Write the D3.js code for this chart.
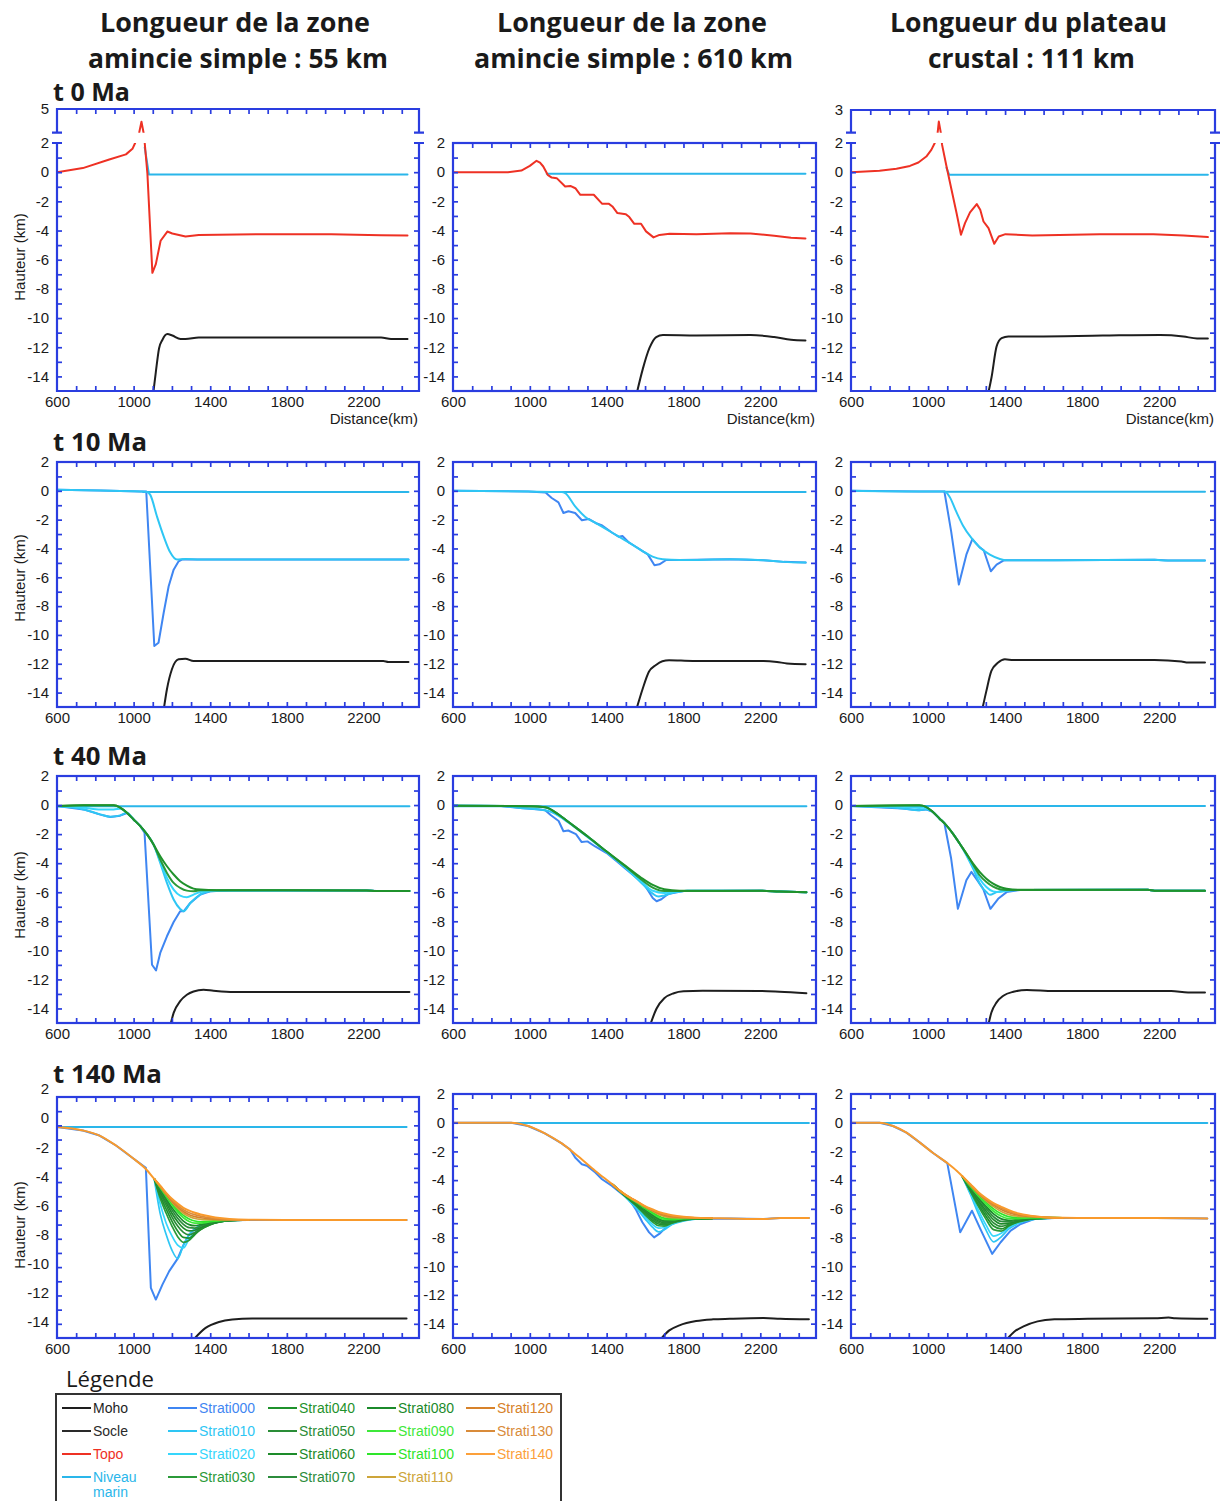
<!DOCTYPE html>
<html><head><meta charset="utf-8">
<script src="https://cdn.jsdelivr.net/npm/d3@7"></script>
<style>body{margin:0;background:#fff}svg{display:block}</style>
</head><body>
<svg id="c" width="1220" height="1501"></svg>
<script>
// ---------------- DATA (distance km, height km) ----------------
const X_TICKS = [700,800,900,1000,1100,1200,1300,1400,1500,1600,1700,1800,1900,2000,2100,2200,2300,2400];
const X_LABELS = [600,1000,1400,1800,2200];
const Y_TICKS = [-14,-13,-12,-11,-10,-9,-8,-7,-6,-5,-4,-3,-2,-1,0,1];
const Y_LABELS = [-14,-12,-10,-8,-6,-4,-2,0,2];

const COL_TITLES_1 = ["Longueur de la zone","Longueur de la zone","Longueur du plateau"];
const COL_TITLES_2 = ["amincie simple : 55 km","amincie simple : 610 km","crustal : 111 km"];
const ROW_TITLES = ["t 0 Ma","t 10 Ma","t 40 Ma","t 140 Ma"];

const LEGEND_NAMES = ["Moho","Socle","Topo","Niveau marin","Strati000","Strati010","Strati020","Strati030","Strati040","Strati050","Strati060","Strati070","Strati080","Strati090","Strati100","Strati110","Strati120","Strati130","Strati140"];
const LEGEND_COLORS = ["#1e1e1e","#2a2a2a","#ee3124","#2ab6ea","#3f86f2","#2ec6f4","#36d6fc","#2b9a39","#1f922c","#2a8d37","#1d8b2a","#2c8c3c","#1b8a2b","#3ee83a","#2ee52a","#cda53a","#d7822a","#d98b3a","#fca03a"];

// t 0 Ma
const c1t0_moho = [[1102,-15.2],[1116,-13.7],[1133,-12.07],[1150,-11.5],[1176,-11.1],[1202,-11.2],[1245,-11.43],[1271,-11.43],[1340,-11.33],[2032,-11.33],[2292,-11.33],[2344,-11.43],[2430,-11.43]];
const c1t0_sea = [[1058,1.7],[1080,-0.16],[2430,-0.16]];
const c1t0_topo = [[600,0],[735,0.28],[873,0.87],[960,1.22],[994,1.6],[1008,2.0],[1029,2.9],[1041,3.88],[1052,2.9],[1058,2.0],[1072,-0.1],[1098,-6.9],[1116,-6.3],[1141,-4.7],[1176,-4.07],[1202,-4.2],[1271,-4.41],[1340,-4.3],[1686,-4.25],[2032,-4.25],[2292,-4.32],[2430,-4.34]];
const c2t0_moho = [[1556,-15.2],[1588,-13.5],[1623,-12.05],[1658,-11.3],[1693,-11.16],[1868,-11.19],[2149,-11.16],[2272,-11.3],[2360,-11.48],[2435,-11.53]];
const c2t0_sea = [[1088,-0.11],[2435,-0.11]];
const c2t0_topo = [[600,0],[886,0],[956,0.11],[1000,0.43],[1035,0.78],[1053,0.66],[1070,0.39],[1093,-0.18],[1114,-0.37],[1140,-0.41],[1184,-0.98],[1211,-0.94],[1237,-1.1],[1263,-1.55],[1333,-1.55],[1377,-2.17],[1412,-2.17],[1430,-2.35],[1456,-2.8],[1500,-2.88],[1518,-3.08],[1544,-3.54],[1579,-3.54],[1605,-4.06],[1644,-4.47],[1675,-4.3],[1728,-4.22],[1868,-4.25],[2044,-4.18],[2149,-4.2],[2272,-4.36],[2360,-4.5],[2435,-4.54]];
const c3t0_moho = [[1312,-15.2],[1330,-14.04],[1356,-11.94],[1382,-11.37],[1417,-11.26],[1557,-11.26],[1907,-11.2],[2204,-11.16],[2326,-11.26],[2397,-11.4],[2453,-11.4]];
const c3t0_sea = [[1096,0.3],[1110,-0.18],[2453,-0.18]];
const c3t0_topo = [[600,0],[748,0.09],[836,0.23],[906,0.43],[950,0.66],[991,1.07],[1017,1.53],[1035,2.0],[1050,2.32],[1056,2.65],[1066,2.32],[1073,1.87],[1096,0.39],[1122,-1.21],[1148,-2.8],[1171,-4.29],[1192,-3.49],[1218,-2.76],[1253,-2.19],[1271,-2.58],[1288,-3.38],[1314,-3.84],[1344,-4.91],[1367,-4.41],[1402,-4.25],[1541,-4.34],[1891,-4.25],[2170,-4.25],[2327,-4.34],[2453,-4.45]];

// t 10 Ma
const c1t10_moho = [[1157,-15.2],[1174,-13.77],[1200,-12.38],[1235,-11.69],[1270,-11.65],[1313,-11.81],[1522,-11.81],[2304,-11.81],[2330,-11.88],[2435,-11.88]];
const c1t10_sea = [[1050,-0.08],[2435,-0.08]];
const c1t10_s000 = [[600,0.07],[826,0.02],[1035,-0.05],[1066,-0.05],[1108,-10.77],[1130,-10.54],[1157,-8.46],[1183,-6.62],[1209,-5.47],[1235,-4.89],[1252,-4.77],[1348,-4.77],[2435,-4.77]];
const c1t10_s010 = [[600,0.07],[826,0.02],[1035,-0.05],[1070,-0.08],[1087,-0.28],[1122,-1.78],[1157,-3.16],[1191,-4.27],[1226,-4.77],[1270,-4.73],[1348,-4.77],[2435,-4.77]];
const c2t10_moho = [[1554,-15.2],[1586,-13.8],[1620,-12.55],[1655,-12.1],[1690,-11.82],[1725,-11.75],[1849,-11.8],[2217,-11.8],[2287,-11.87],[2339,-11.98],[2436,-12.03]];
const c2t10_sea = [[1166,-0.08],[2436,-0.08]];
const c2t10_s000 = [[600,0],[991,-0.05],[1082,-0.11],[1114,-0.5],[1149,-0.8],[1175,-1.54],[1201,-1.42],[1236,-1.54],[1271,-2.04],[1306,-1.95],[1342,-2.23],[1377,-2.41],[1429,-2.91],[1464,-3.19],[1482,-3.14],[1517,-3.6],[1552,-3.88],[1587,-4.18],[1614,-4.41],[1649,-5.16],[1675,-5.1],[1710,-4.8],[1779,-4.8],[2042,-4.75],[2217,-4.82],[2322,-4.93],[2436,-4.98]];
const c2t10_s010 = [[600,0],[991,-0.05],[1166,-0.09],[1184,-0.16],[1236,-1.08],[1289,-1.81],[1342,-2.23],[1429,-2.91],[1517,-3.6],[1587,-4.18],[1639,-4.57],[1692,-4.75],[1779,-4.8],[2042,-4.75],[2217,-4.82],[2322,-4.93],[2436,-4.98]];
const c3t10_moho = [[1281,-15.2],[1303,-13.88],[1329,-12.5],[1364,-11.92],[1399,-11.69],[1443,-11.74],[2176,-11.74],[2316,-11.85],[2350,-11.92],[2438,-11.92]];
const c3t10_sea = [[1085,-0.06],[2438,-0.06]];
const c3t10_s000 = [[600,0],[954,-0.05],[1085,-0.05],[1120,-2.81],[1160,-6.5],[1199,-4.43],[1230,-3.35],[1268,-3.92],[1289,-4.12],[1326,-5.58],[1356,-5.12],[1391,-4.84],[1408,-4.82],[1652,-4.82],[2176,-4.78],[2246,-4.84],[2438,-4.84]];
const c3t10_s010 = [[600,0],[954,-0.05],[1085,-0.05],[1111,-0.39],[1146,-1.43],[1181,-2.4],[1225,-3.27],[1268,-3.92],[1321,-4.43],[1373,-4.73],[1408,-4.82],[1652,-4.82],[2176,-4.78],[2246,-4.84],[2438,-4.84]];

// t 40 Ma
const c1t40_moho = [[1191,-15.2],[1209,-14.3],[1243,-13.5],[1278,-13.06],[1313,-12.83],[1365,-12.71],[1417,-12.78],[1522,-12.87],[2440,-12.87]];
const c1t40_sea = [[600,-0.09],[2440,-0.09]];
const c1t40_s000 = [[600,-0.07],[739,-0.3],[826,-0.66],[878,-0.82],[930,-0.73],[965,-0.55],[1000,-0.99],[1035,-1.45],[1057,-1.9],[1096,-10.99],[1117,-11.38],[1139,-10.18],[1174,-9.03],[1209,-8.05],[1243,-7.31],[1261,-7.31],[1296,-6.74],[1348,-6.16],[1400,-5.93],[1500,-5.88],[2217,-5.88],[2270,-5.91],[2440,-5.91]];
const c1t40_s010 = [[600,-0.07],[739,-0.3],[826,-0.64],[878,-0.8],[930,-0.71],[965,-0.53],[1000,-0.99],[1035,-1.45],[1070,-2.02],[1104,-2.71],[1139,-3.98],[1174,-5.36],[1209,-6.5],[1243,-7.15],[1261,-7.31],[1296,-6.74],[1348,-6.16],[1400,-5.93],[1500,-5.88],[2217,-5.88],[2270,-5.91],[2440,-5.91]];
const c1t40_s020 = [[600,-0.07],[739,-0.18],[826,-0.3],[896,-0.3],[930,-0.25],[965,-0.53],[1000,-0.99],[1035,-1.45],[1070,-2.02],[1104,-2.71],[1139,-3.86],[1174,-5.01],[1209,-5.82],[1243,-6.23],[1278,-6.34],[1313,-6.16],[1348,-5.98],[1435,-5.89],[2217,-5.88],[2270,-5.91],[2440,-5.91]];
const c1t40_s030 = [[600,-0.07],[739,-0.02],[896,-0.02],[930,-0.18],[965,-0.53],[1000,-0.99],[1035,-1.45],[1070,-2.02],[1104,-2.71],[1139,-3.75],[1174,-4.67],[1209,-5.36],[1243,-5.7],[1278,-5.89],[1313,-5.93],[1348,-5.86],[1435,-5.86],[2217,-5.88],[2270,-5.91],[2440,-5.91]];
const c1t40_s040 = [[600,-0.07],[739,-0.02],[896,-0.02],[930,-0.18],[965,-0.53],[1000,-0.99],[1035,-1.45],[1070,-2.02],[1104,-2.71],[1139,-3.52],[1174,-4.21],[1209,-4.78],[1243,-5.24],[1278,-5.54],[1313,-5.75],[1348,-5.82],[1435,-5.86],[2217,-5.88],[2270,-5.91],[2440,-5.91]];
const c2t40_moho = [[1625,-15.2],[1660,-14.0],[1700,-13.3],[1750,-12.95],[1800,-12.82],[1900,-12.78],[2200,-12.8],[2300,-12.85],[2440,-12.95]];
const c2t40_sea = [[600,-0.08],[2440,-0.08]];
const c2t40_s000 = [[600,-0.05],[850,-0.06],[950,-0.2],[1050,-0.3],[1080,-0.35],[1110,-0.7],[1150,-1.1],[1175,-1.8],[1200,-1.75],[1240,-2.0],[1270,-2.55],[1300,-2.5],[1340,-2.85],[1400,-3.3],[1460,-3.95],[1500,-4.4],[1560,-5.05],[1600,-5.55],[1640,-6.4],[1660,-6.62],[1685,-6.48],[1720,-6.12],[1800,-5.92],[2200,-5.9],[2300,-5.95],[2440,-6.0]];
const c2t40_s010 = [[600,-0.05],[850,-0.06],[950,-0.2],[1050,-0.3],[1100,-0.42],[1150,-0.75],[1200,-1.2],[1300,-2.2],[1400,-3.25],[1500,-4.35],[1580,-5.35],[1640,-6.1],[1670,-6.3],[1700,-6.22],[1750,-6.02],[1820,-5.9],[2200,-5.9],[2300,-5.95],[2440,-6.0]];
const c2t40_s020 = [[600,-0.05],[1000,-0.08],[1080,-0.15],[1150,-0.65],[1200,-1.15],[1300,-2.15],[1400,-3.22],[1500,-4.3],[1580,-5.25],[1640,-5.9],[1700,-6.05],[1760,-5.97],[1820,-5.9],[2200,-5.9],[2300,-5.95],[2440,-6.0]];
const c2t40_s030 = [[600,-0.05],[1000,-0.08],[1080,-0.15],[1150,-0.65],[1200,-1.15],[1300,-2.15],[1400,-3.2],[1500,-4.25],[1580,-5.12],[1640,-5.68],[1700,-5.92],[1780,-5.92],[2200,-5.9],[2300,-5.95],[2440,-6.0]];
const c2t40_s040 = [[600,-0.05],[1000,-0.08],[1080,-0.15],[1150,-0.65],[1200,-1.15],[1300,-2.15],[1400,-3.2],[1500,-4.2],[1580,-5.0],[1640,-5.5],[1700,-5.8],[1780,-5.9],[2200,-5.9],[2300,-5.95],[2440,-6.0]];
const c3t40_moho = [[1312,-15.2],[1329,-14.28],[1356,-13.58],[1391,-13.12],[1443,-12.85],[1513,-12.73],[1652,-12.8],[2263,-12.8],[2350,-12.9],[2438,-12.9]];
const c3t40_sea = [[600,-0.07],[2438,-0.07]];
const c3t40_s000 = [[600,-0.07],[867,-0.23],[954,-0.35],[989,-0.3],[1024,-0.46],[1059,-0.92],[1085,-1.25],[1120,-3.68],[1155,-7.14],[1199,-5.18],[1225,-4.6],[1268,-5.41],[1286,-5.76],[1324,-7.14],[1364,-6.45],[1408,-5.99],[1478,-5.84],[2141,-5.83],[2176,-5.89],[2438,-5.89]];
const c3t40_s010 = [[600,-0.07],[867,-0.23],[954,-0.35],[989,-0.3],[1024,-0.46],[1059,-0.92],[1094,-1.38],[1129,-1.96],[1164,-2.65],[1199,-3.45],[1234,-4.37],[1268,-5.41],[1303,-5.99],[1321,-6.17],[1356,-5.99],[1408,-5.86],[1478,-5.84],[2141,-5.83],[2176,-5.89],[2438,-5.89]];
const c3t40_s020 = [[600,-0.07],[867,-0.12],[954,-0.2],[989,-0.18],[1024,-0.46],[1059,-0.92],[1094,-1.38],[1129,-1.96],[1164,-2.65],[1199,-3.4],[1234,-4.2],[1268,-5.07],[1303,-5.64],[1338,-5.94],[1373,-5.99],[1408,-5.9],[1478,-5.84],[2141,-5.83],[2176,-5.89],[2438,-5.89]];
const c3t40_s030 = [[600,-0.07],[954,-0.02],[989,-0.12],[1024,-0.46],[1059,-0.92],[1094,-1.38],[1129,-1.96],[1164,-2.65],[1199,-3.34],[1234,-4.1],[1268,-4.83],[1303,-5.3],[1338,-5.62],[1373,-5.8],[1408,-5.85],[1478,-5.84],[2141,-5.83],[2176,-5.89],[2438,-5.89]];
const c3t40_s040 = [[600,-0.07],[954,-0.02],[989,-0.12],[1024,-0.46],[1059,-0.92],[1094,-1.38],[1129,-1.96],[1164,-2.65],[1199,-3.34],[1234,-4.03],[1268,-4.6],[1303,-5.07],[1338,-5.41],[1373,-5.64],[1408,-5.76],[1478,-5.83],[2141,-5.83],[2176,-5.89],[2438,-5.89]];

// t 140 Ma
const c1t140_moho = [[1307,-15.2],[1376,-14.29],[1446,-13.87],[1515,-13.7],[1619,-13.63],[2035,-13.63],[2425,-13.63]];
const c1t140_sea = [[600,-0.12],[2425,-0.12]];
const c1t140_s000 = [[600,-0.12],[735,-0.36],[822,-0.72],[908,-1.42],[995,-2.3],[1064,-3.0],[1090,-11.46],[1116,-12.29],[1151,-11.22],[1186,-10.28],[1230,-9.4],[1260,-8.45],[1290,-7.7],[1320,-7.3],[1350,-7.05],[1400,-6.86],[1450,-6.76],[1500,-6.7],[1600,-6.67],[2425,-6.67]];
const c1t140_s140 = [[600,-0.12],[735,-0.36],[822,-0.72],[908,-1.42],[995,-2.3],[1064,-3.08],[1108,-3.78],[1140,-4.28],[1170,-4.76],[1200,-5.18],[1230,-5.52],[1260,-5.82],[1290,-6.02],[1320,-6.17],[1350,-6.29],[1400,-6.43],[1450,-6.54],[1500,-6.61],[1600,-6.66],[1800,-6.67],[2425,-6.67]];
const c1t140_fanX = [1108,1140,1170,1200,1230,1260,1290,1320,1350,1400,1450,1500,1600];
const c1t140_s010 = [-3.78,-6.3,-7.7,-8.8,-9.4,-8.45,-7.7,-7.3,-7.05,-6.86,-6.76,-6.7,-6.67];
const c1t140_s020 = [-3.78,-5.6,-6.9,-7.8,-8.45,-8.65,-8.0,-7.55,-7.2,-6.95,-6.8,-6.72,-6.67];
const c1t140_s030 = [-3.78,-5.2,-6.2,-7.1,-7.85,-8.25,-8.1,-7.7,-7.35,-7.0,-6.82,-6.73,-6.67];
const c1t140_s040 = [-3.78,-5.0,-5.9,-6.75,-7.45,-7.9,-7.95,-7.65,-7.35,-7.0,-6.82,-6.73,-6.67];
const c1t140_s050 = [-3.78,-4.85,-5.65,-6.45,-7.1,-7.55,-7.72,-7.55,-7.28,-6.98,-6.8,-6.72,-6.67];
const c1t140_s060 = [-3.78,-4.7,-5.45,-6.2,-6.8,-7.25,-7.45,-7.4,-7.2,-6.95,-6.79,-6.71,-6.67];
const c1t140_s070 = [-3.78,-4.6,-5.3,-5.98,-6.55,-6.98,-7.22,-7.25,-7.1,-6.9,-6.77,-6.7,-6.67];
const c1t140_s080 = [-3.78,-4.5,-5.15,-5.8,-6.32,-6.75,-7.0,-7.08,-7.0,-6.85,-6.75,-6.69,-6.67];
const c1t140_s090 = [-3.78,-4.42,-5.02,-5.62,-6.12,-6.52,-6.78,-6.9,-6.9,-6.8,-6.72,-6.68,-6.67];
const c1t140_s100 = [-3.78,-4.38,-4.95,-5.5,-5.98,-6.35,-6.6,-6.75,-6.8,-6.75,-6.7,-6.67,-6.67];
const c1t140_s110 = [-3.78,-4.35,-4.9,-5.42,-5.85,-6.2,-6.43,-6.57,-6.63,-6.66,-6.67,-6.67,-6.67];
const c1t140_s120 = [-3.78,-4.33,-4.86,-5.35,-5.75,-6.08,-6.3,-6.44,-6.52,-6.6,-6.64,-6.66,-6.67];
const c1t140_s130 = [-3.78,-4.3,-4.81,-5.27,-5.64,-5.95,-6.16,-6.3,-6.4,-6.52,-6.59,-6.64,-6.67];

const c2t140_moho = [[1674,-15.2],[1726,-14.47],[1779,-14.12],[1866,-13.82],[1954,-13.7],[2041,-13.66],[2217,-13.61],[2304,-13.66],[2453,-13.7]];
const c2t140_sea = [[600,-0.02],[2453,-0.02]];
const c2t140_s000 = [[600,0],[903,0],[991,-0.23],[1078,-0.74],[1166,-1.44],[1183,-1.62],[1209,-1.85],[1236,-2.43],[1271,-2.89],[1297,-3.0],[1341,-3.47],[1376,-3.94],[1428,-4.4],[1481,-4.98],[1516,-5.32],[1551,-6.02],[1586,-6.94],[1621,-7.64],[1647,-7.99],[1674,-7.75],[1709,-7.29],[1761,-6.88],[1831,-6.71],[2041,-6.67],[2217,-6.71],[2304,-6.64],[2453,-6.64]];
const c2t140_s140 = [[600,0],[903,0],[991,-0.23],[1078,-0.74],[1166,-1.44],[1253,-2.36],[1341,-3.36],[1428,-4.28],[1480,-4.85],[1520,-5.2],[1560,-5.5],[1600,-5.81],[1640,-6.05],[1670,-6.22],[1700,-6.33],[1740,-6.45],[1800,-6.56],[1866,-6.62],[2041,-6.67],[2217,-6.71],[2304,-6.64],[2453,-6.64]];
const c2t140_fanX = [1430,1480,1520,1560,1600,1640,1670,1700,1740,1800,1860,1950];
const c2t140_s010 = [-4.3,-4.95,-5.5,-6.05,-6.7,-7.3,-7.6,-7.45,-7.1,-6.85,-6.72,-6.67];
const c2t140_s020 = [-4.3,-4.93,-5.45,-5.95,-6.55,-7.1,-7.35,-7.3,-7.05,-6.82,-6.71,-6.66];
const c2t140_s030 = [-4.3,-4.92,-5.4,-5.88,-6.42,-6.92,-7.18,-7.2,-7.0,-6.8,-6.7,-6.66];
const c2t140_s040 = [-4.3,-4.91,-5.37,-5.82,-6.32,-6.8,-7.06,-7.12,-6.96,-6.78,-6.7,-6.66];
const c2t140_s050 = [-4.3,-4.9,-5.34,-5.77,-6.24,-6.69,-6.95,-7.04,-6.92,-6.76,-6.69,-6.66];
const c2t140_s060 = [-4.3,-4.89,-5.31,-5.72,-6.16,-6.59,-6.85,-6.96,-6.88,-6.74,-6.68,-6.66];
const c2t140_s070 = [-4.3,-4.88,-5.29,-5.68,-6.09,-6.5,-6.76,-6.89,-6.84,-6.72,-6.68,-6.66];
const c2t140_s080 = [-4.3,-4.88,-5.27,-5.64,-6.03,-6.42,-6.67,-6.82,-6.8,-6.7,-6.67,-6.66];
const c2t140_s090 = [-4.3,-4.87,-5.25,-5.6,-5.97,-6.33,-6.58,-6.74,-6.75,-6.68,-6.66,-6.65];
const c2t140_s100 = [-4.3,-4.87,-5.24,-5.57,-5.92,-6.25,-6.49,-6.65,-6.7,-6.66,-6.65,-6.65];
const c2t140_s110 = [-4.3,-4.86,-5.22,-5.54,-5.88,-6.17,-6.39,-6.53,-6.62,-6.63,-6.64,-6.65];
const c2t140_s120 = [-4.3,-4.86,-5.21,-5.52,-5.85,-6.11,-6.31,-6.44,-6.55,-6.6,-6.63,-6.65];
const c2t140_s130 = [-4.3,-4.85,-5.2,-5.51,-5.83,-6.08,-6.26,-6.38,-6.5,-6.58,-6.63,-6.65];

const c3t140_moho = [[1403,-15.2],[1446,-14.58],[1499,-14.17],[1569,-13.84],[1656,-13.7],[1830,-13.66],[2179,-13.62],[2249,-13.58],[2284,-13.62],[2450,-13.66]];
const c3t140_sea = [[600,-0.02],[2450,-0.02]];
const c3t140_s000 = [[600,0],[748,0],[818,-0.23],[888,-0.69],[958,-1.39],[1028,-2.13],[1100,-2.82],[1167,-7.64],[1228,-6.13],[1272,-7.41],[1333,-9.14],[1377,-8.33],[1429,-7.52],[1481,-7.06],[1551,-6.71],[1656,-6.64],[2179,-6.64],[2450,-6.67]];
const c3t140_s140 = [[600,0],[748,0],[818,-0.23],[888,-0.69],[958,-1.39],[1028,-2.13],[1097,-2.78],[1150,-3.36],[1176,-3.7],[1220,-4.28],[1260,-4.82],[1300,-5.25],[1340,-5.6],[1380,-5.86],[1420,-6.1],[1470,-6.33],[1530,-6.48],[1600,-6.58],[1700,-6.63],[1830,-6.64],[2179,-6.64],[2450,-6.67]];
const c3t140_fanX = [1176,1220,1260,1300,1340,1380,1420,1470,1530,1600,1700];
const c3t140_s010 = [-3.7,-5.0,-6.3,-7.45,-8.3,-7.95,-7.4,-7.02,-6.78,-6.68,-6.64];
const c3t140_s020 = [-3.7,-4.9,-6.05,-7.1,-7.9,-7.7,-7.28,-6.96,-6.75,-6.67,-6.64];
const c3t140_s030 = [-3.7,-4.8,-5.8,-6.7,-7.45,-7.55,-7.2,-6.92,-6.73,-6.66,-6.64];
const c3t140_s040 = [-3.7,-4.72,-5.65,-6.5,-7.2,-7.4,-7.15,-6.88,-6.72,-6.66,-6.64];
const c3t140_s050 = [-3.7,-4.65,-5.5,-6.3,-6.98,-7.22,-7.08,-6.85,-6.7,-6.65,-6.64];
const c3t140_s060 = [-3.7,-4.6,-5.38,-6.12,-6.75,-7.05,-7.0,-6.82,-6.69,-6.65,-6.64];
const c3t140_s070 = [-3.7,-4.55,-5.27,-5.95,-6.55,-6.88,-6.9,-6.78,-6.68,-6.64,-6.64];
const c3t140_s080 = [-3.7,-4.5,-5.17,-5.8,-6.35,-6.7,-6.8,-6.73,-6.66,-6.63,-6.63];
const c3t140_s090 = [-3.7,-4.45,-5.08,-5.65,-6.17,-6.52,-6.68,-6.68,-6.64,-6.62,-6.63];
const c3t140_s100 = [-3.7,-4.4,-5.0,-5.52,-6.0,-6.35,-6.55,-6.61,-6.6,-6.6,-6.63];
const c3t140_s110 = [-3.7,-4.36,-4.94,-5.42,-5.85,-6.18,-6.4,-6.52,-6.55,-6.59,-6.63];
const c3t140_s120 = [-3.7,-4.33,-4.9,-5.35,-5.74,-6.04,-6.27,-6.44,-6.52,-6.59,-6.63];
const c3t140_s130 = [-3.7,-4.3,-4.86,-5.3,-5.67,-5.94,-6.18,-6.38,-6.5,-6.58,-6.63];

// ---------------- LAYOUT ----------------
const COLS = [{x0:57,x1:419},{x0:453,x1:816},{x0:851,x1:1215}];
const ROWS = [{yt:143,yb:391},{yt:462,yb:707},{yt:776,yb:1023},{yt:1094,yb:1338}];
const BLUE = "#2a3de0";
const FONT = "'Liberation Sans', Arial, sans-serif";
const TITLE_FONT = "'Open Sans', 'Noto Sans', sans-serif";

const colorOf = {};
LEGEND_NAMES.forEach((n,i)=>colorOf[n]=LEGEND_COLORS[i]);
colorOf["Strati140"] = "#f99a2c";

const FAN_NAMES = ["Strati010","Strati020","Strati030","Strati040","Strati050","Strati060","Strati070","Strati080","Strati090","Strati100","Strati110","Strati120","Strati130"];
function fanSeries(xs, ys){ return ys.map((arr,k)=>[xs.map((v,i)=>[v,arr[i]]), FAN_NAMES[k], 1.7]); }

const panels = [
 {c:0,r:0,brk:[5,109],s:[[c1t0_moho,"Moho"],[c1t0_sea,"Niveau marin"],[c1t0_topo,"Topo"]]},
 {c:1,r:0,s:[[c2t0_moho,"Moho"],[c2t0_sea,"Niveau marin"],[c2t0_topo,"Topo"]]},
 {c:2,r:0,brk:[3,110],s:[[c3t0_moho,"Moho"],[c3t0_sea,"Niveau marin"],[c3t0_topo,"Topo"]]},
 {c:0,r:1,s:[[c1t10_moho,"Moho"],[c1t10_sea,"Niveau marin"],[c1t10_s000,"Strati000"],[c1t10_s010,"Strati010"]]},
 {c:1,r:1,s:[[c2t10_moho,"Moho"],[c2t10_sea,"Niveau marin"],[c2t10_s000,"Strati000"],[c2t10_s010,"Strati010"]]},
 {c:2,r:1,s:[[c3t10_moho,"Moho"],[c3t10_sea,"Niveau marin"],[c3t10_s000,"Strati000"],[c3t10_s010,"Strati010"]]},
 {c:0,r:2,s:[[c1t40_moho,"Moho"],[c1t40_sea,"Niveau marin"],[c1t40_s000,"Strati000"],[c1t40_s010,"Strati010"],[c1t40_s020,"Strati020"],[c1t40_s030,"Strati030"],[c1t40_s040,"Strati040"]]},
 {c:1,r:2,s:[[c2t40_moho,"Moho"],[c2t40_sea,"Niveau marin"],[c2t40_s000,"Strati000"],[c2t40_s010,"Strati010"],[c2t40_s020,"Strati020"],[c2t40_s030,"Strati030"],[c2t40_s040,"Strati040"]]},
 {c:2,r:2,s:[[c3t40_moho,"Moho"],[c3t40_sea,"Niveau marin"],[c3t40_s000,"Strati000"],[c3t40_s010,"Strati010"],[c3t40_s020,"Strati020"],[c3t40_s030,"Strati030"],[c3t40_s040,"Strati040"]]},
 {c:0,r:3,yt:1097,labelRange:[1322,1089],s:[[c1t140_moho,"Moho"],[c1t140_sea,"Niveau marin"],[c1t140_s000,"Strati000"],
   ...fanSeries(c1t140_fanX,[c1t140_s010,c1t140_s020,c1t140_s030,c1t140_s040,c1t140_s050,c1t140_s060,c1t140_s070,c1t140_s080,c1t140_s090,c1t140_s100,c1t140_s110,c1t140_s120,c1t140_s130]),
   [c1t140_s140,"Strati140"]]},
 {c:1,r:3,s:[[c2t140_moho,"Moho"],[c2t140_sea,"Niveau marin"],[c2t140_s000,"Strati000"],
   ...fanSeries(c2t140_fanX,[c2t140_s010,c2t140_s020,c2t140_s030,c2t140_s040,c2t140_s050,c2t140_s060,c2t140_s070,c2t140_s080,c2t140_s090,c2t140_s100,c2t140_s110,c2t140_s120,c2t140_s130]),
   [c2t140_s140,"Strati140"]]},
 {c:2,r:3,s:[[c3t140_moho,"Moho"],[c3t140_sea,"Niveau marin"],[c3t140_s000,"Strati000"],
   ...fanSeries(c3t140_fanX,[c3t140_s010,c3t140_s020,c3t140_s030,c3t140_s040,c3t140_s050,c3t140_s060,c3t140_s070,c3t140_s080,c3t140_s090,c3t140_s100,c3t140_s110,c3t140_s120,c3t140_s130]),
   [c3t140_s140,"Strati140"]]}
];

const svg = d3.select("#c");
svg.append("rect").attr("width",1220).attr("height",1501).attr("fill","#fff");
const defs = svg.append("defs");

function styleAxis(g){
  g.select(".domain").remove();
  g.selectAll("line").attr("stroke",BLUE).attr("stroke-width",1.7);
  g.selectAll("text").attr("fill","#1a1a1a").attr("font-family",FONT).attr("font-size",15);
  g.attr("font-family",FONT);
}
const fmt = d => String(d);

panels.forEach((p,i)=>{
  const C = COLS[p.c], R = ROWS[p.r];
  const yt = p.yt || R.yt;
  const x = d3.scaleLinear().domain([600,2490]).range([C.x0,C.x1]);
  const y = p.brk ? d3.scaleLinear().domain([-15,2,p.brk[0]]).range([R.yb,yt,p.brk[1]])
                  : d3.scaleLinear().domain([-15,2]).range([R.yb,yt]);
  const yl = p.labelRange ? d3.scaleLinear().domain([-14,2]).range(p.labelRange) : y;
  const gapTop = yt - 10.3;

  const cp = defs.append("clipPath").attr("id","clip"+i);
  if (p.brk){
    cp.append("rect").attr("x",C.x0).attr("y",p.brk[1]).attr("width",C.x1-C.x0).attr("height",gapTop-p.brk[1]);
    cp.append("rect").attr("x",C.x0).attr("y",yt).attr("width",C.x1-C.x0).attr("height",R.yb-yt);
  } else {
    cp.append("rect").attr("x",C.x0).attr("y",yt).attr("width",C.x1-C.x0).attr("height",R.yb-yt);
  }
  const g = svg.append("g").attr("clip-path",`url(#clip${i})`);
  p.s.forEach(([data,name,w])=>{
    const sharp = (name==="Topo"||name==="Strati000"||name==="Niveau marin");
    const line = d3.line().x(d=>x(d[0])).y(d=>y(d[1])).curve(sharp?d3.curveLinear:d3.curveMonotoneX);
    g.append("path").attr("d",line(data)).attr("fill","none")
      .attr("stroke",colorOf[name]).attr("stroke-width",w||2)
      .attr("stroke-linejoin","round").attr("stroke-linecap","round");
  });

  // frame
  if (p.brk){
    const t = p.brk[1];
    const path = `M${C.x0},${gapTop} V${t} H${C.x1} V${gapTop}` +
      ` M${C.x0-5},${gapTop} H${C.x0+5} M${C.x1-5},${gapTop} H${C.x1+5}` +
      ` M${C.x0-5},${yt} H${C.x0+5} M${C.x1-5},${yt} H${C.x1+5}` +
      ` M${C.x0},${yt} V${R.yb} H${C.x1} V${yt}`;
    svg.append("path").attr("d",path).attr("fill","none").attr("stroke",BLUE).attr("stroke-width",2.2);
  } else {
    svg.append("rect").attr("x",C.x0).attr("y",yt).attr("width",C.x1-C.x0).attr("height",R.yb-yt)
      .attr("fill","none").attr("stroke",BLUE).attr("stroke-width",2.2);
  }
  const topY = p.brk ? p.brk[1] : yt;
  // ticks
  svg.append("g").attr("transform",`translate(0,${R.yb})`).call(d3.axisBottom(x).tickValues(X_TICKS).tickSize(-5).tickFormat("")).call(styleAxis);
  svg.append("g").attr("transform",`translate(0,${topY})`).call(d3.axisTop(x).tickValues(X_TICKS).tickSize(-5).tickFormat("")).call(styleAxis);
  svg.append("g").attr("transform",`translate(${C.x0},0)`).call(d3.axisLeft(y).tickValues(Y_TICKS).tickSize(-5).tickFormat("")).call(styleAxis);
  svg.append("g").attr("transform",`translate(${C.x1},0)`).call(d3.axisRight(y).tickValues(Y_TICKS).tickSize(-5).tickFormat("")).call(styleAxis);
  // labels
  svg.append("g").attr("transform",`translate(0,${R.yb})`).call(d3.axisBottom(x).tickValues(X_LABELS).tickSize(0).tickPadding(5).tickFormat(fmt)).call(styleAxis);
  svg.append("g").attr("transform",`translate(${C.x0},0)`).call(d3.axisLeft(yl).tickValues(Y_LABELS).tickSize(0).tickPadding(8).tickFormat(fmt)).call(styleAxis);
  if (p.brk){
    svg.append("g").attr("transform",`translate(${C.x0},0)`).call(d3.axisLeft(y).tickValues([p.brk[0]]).tickSize(0).tickPadding(8).tickFormat(fmt)).call(styleAxis);
  }
  if (p.r===0){
    svg.append("text").attr("x",C.x1-1).attr("y",R.yb+33).attr("text-anchor","end")
      .attr("font-family",FONT).attr("font-size",15).attr("fill","#1a1a1a").text("Distance(km)");
  }
});

// y axis titles (column 1)
const HAUTEUR_Y = [257,578,895,1225];
HAUTEUR_Y.forEach(cy=>{
  svg.append("text").attr("transform",`translate(25,${cy}) rotate(-90)`).attr("text-anchor","middle")
    .attr("font-family",FONT).attr("font-size",15).attr("fill","#1a1a1a").text("Hauteur (km)");
});

// column titles
const TITLE_POS = [[100,270,88,300],[497,270,474,319],[890,277,928,207]];
TITLE_POS.forEach((tp,i)=>{
  svg.append("text").attr("x",tp[0]).attr("y",32).attr("textLength",tp[1]).attr("lengthAdjust","spacingAndGlyphs")
    .attr("font-family",TITLE_FONT).attr("font-weight",700).attr("font-size",27).attr("fill","#1a1a1a").text(COL_TITLES_1[i]);
  svg.append("text").attr("x",tp[2]).attr("y",68).attr("textLength",tp[3]).attr("lengthAdjust","spacingAndGlyphs")
    .attr("font-family",TITLE_FONT).attr("font-weight",700).attr("font-size",27).attr("fill","#1a1a1a").text(COL_TITLES_2[i]);
});
// row titles
const ROW_POS = [[101,77],[451,94],[765,94],[1083,109]];
ROW_POS.forEach((rp,i)=>{
  svg.append("text").attr("x",53).attr("y",rp[0]).attr("textLength",rp[1]).attr("lengthAdjust","spacingAndGlyphs")
    .attr("font-family",TITLE_FONT).attr("font-weight",700).attr("font-size",25).attr("fill","#1a1a1a").text(ROW_TITLES[i]);
});

// legend
svg.append("text").attr("x",66).attr("y",1387).attr("textLength",88).attr("lengthAdjust","spacingAndGlyphs")
  .attr("font-family",TITLE_FONT).attr("font-size",22).attr("fill","#1a1a1a").text("Légende");
svg.append("rect").attr("x",56).attr("y",1394).attr("width",505).attr("height",130)
  .attr("fill","none").attr("stroke","#333").attr("stroke-width",2);
const LEG_COL_X = [62,168,268,367,466];
const LEG_ROW_Y = [1408,1431,1454,1477];
const legendCols = [[0,1,2,3],[4,5,6,7],[8,9,10,11],[12,13,14,15],[16,17,18]];
legendCols.forEach((col,ci)=>{
  col.forEach((idx,ri)=>{
    const lx = LEG_COL_X[ci], ly = LEG_ROW_Y[ri];
    svg.append("line").attr("x1",lx).attr("x2",lx+29).attr("y1",ly).attr("y2",ly)
      .attr("stroke",LEGEND_COLORS[idx]).attr("stroke-width",2);
    const name = LEGEND_NAMES[idx];
    const t = svg.append("text").attr("x",lx+31).attr("y",ly+5).attr("font-family",FONT).attr("font-size",14)
      .attr("fill",LEGEND_COLORS[idx]);
    if (name==="Niveau marin"){
      t.append("tspan").attr("x",lx+31).text("Niveau");
      t.append("tspan").attr("x",lx+31).attr("dy",14.5).text("marin");
    } else t.text(name);
  });
});
</script>
</body></html>
